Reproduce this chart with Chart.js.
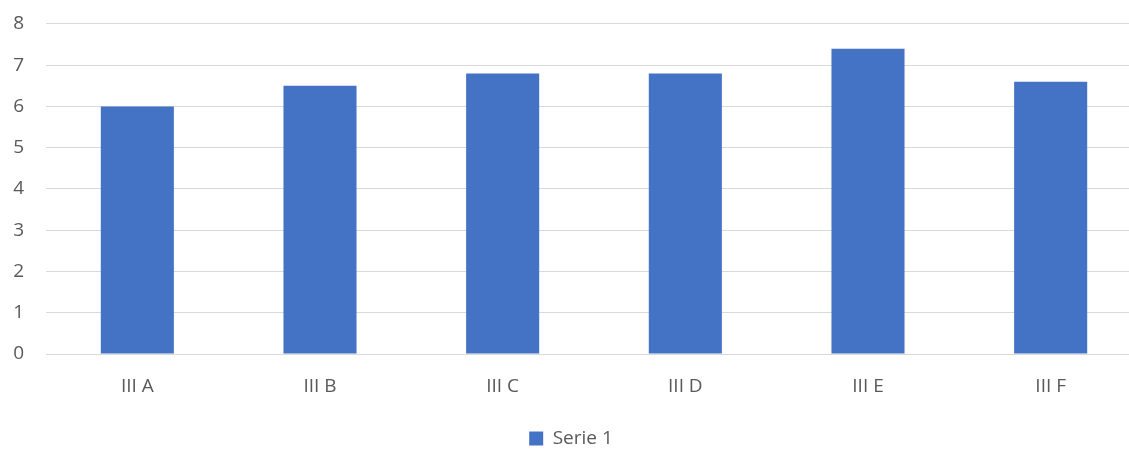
<!DOCTYPE html>
<html>
<head>
<meta charset="utf-8">
<script src="https://cdn.jsdelivr.net/npm/chart.js@4/dist/chart.umd.min.js"></script>
<style>
  html, body { margin: 0; padding: 0; background: #fff; overflow: hidden; }
  #wrap { width: 1145px; height: 452px; position: relative; }
</style>
</head>
<body>
<div id="wrap"><canvas id="barChart"></canvas></div>
<script>
// chart data
const categories = ['III A', 'III B', 'III C', 'III D', 'III E', 'III F'];
const serie1 = [6, 6.5, 6.8, 6.8, 7.4, 6.6];
const seriesName = 'Serie 1';
const yMin = 0;
const yMax = 8;
const yStep = 1;

const textColor = '#595959';
const gridColor = '#d9d9d9';
const fontFamily = '"Open Sans", "Noto Sans", sans-serif';

new Chart(document.getElementById('barChart'), {
  type: 'bar',
  data: {
    labels: categories,
    datasets: [{
      label: seriesName,
      data: serie1,
      backgroundColor: '#4472c4',
      borderWidth: 0,
      categoryPercentage: 1,
      barPercentage: 0.4
    }]
  },
  options: {
    responsive: true,
    maintainAspectRatio: false,
    animation: false,
    layout: { padding: { top: 20, right: 3, bottom: -6, left: 0 } },
    plugins: {
      tooltip: { enabled: false },
      legend: {
        display: true,
        position: 'bottom',
        labels: {
          color: textColor,
          font: { family: fontFamily, size: 19 },
          boxWidth: 14,
          boxHeight: 14,
          padding: 2
        }
      }
    },
    scales: {
      y: {
        min: yMin,
        max: yMax,
        ticks: {
          stepSize: yStep,
          color: textColor,
          // small lineHeight keeps the top label from pushing the plot down
          font: { family: fontFamily, size: 19, lineHeight: 0.2 },
          padding: 22
        },
        grid: { color: gridColor, lineWidth: 1, drawTicks: false },
        border: { display: false },
        afterFit: function(scale) { scale.width = 46; }
      },
      x: {
        ticks: {
          color: textColor,
          font: { family: fontFamily, size: 19 },
          padding: 21
        },
        grid: { display: false, drawTicks: false },
        border: { display: true, color: gridColor, width: 1 },
        afterFit: function(scale) { scale.height = 73; }
      }
    }
  }
});
</script>
</body>
</html>
